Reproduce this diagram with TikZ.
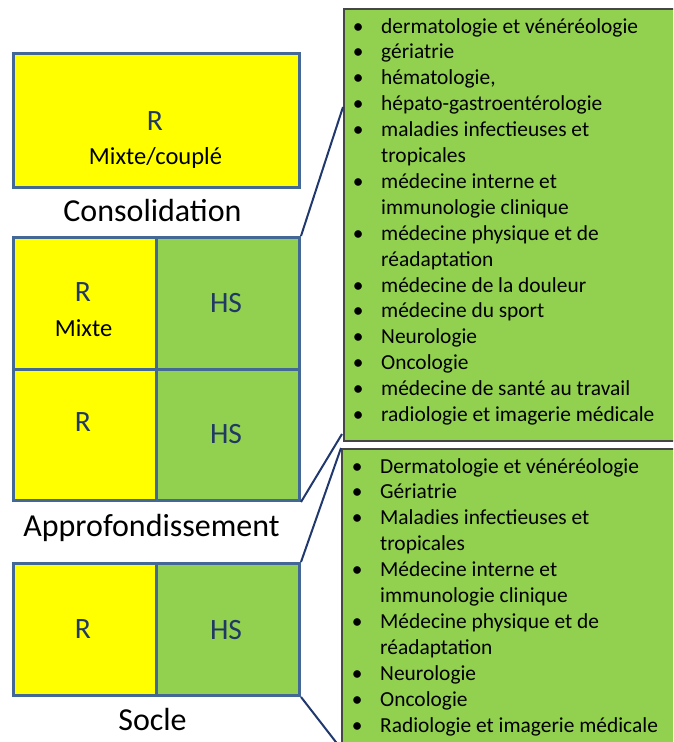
\documentclass[tikz,border=0pt]{standalone}
\usepackage{fontspec}
\setmainfont{Carlito}
\definecolor{boxblue}{RGB}{68,104,150}
\definecolor{ryellow}{RGB}{255,255,0}
\definecolor{hsgreen}{RGB}{146,208,80}
\definecolor{navytext}{RGB}{31,56,100}
\definecolor{connblue}{RGB}{32,56,110}
\definecolor{listgray}{RGB}{70,70,70}
\newcommand{\itm}[1]{\makebox[23pt][l]{\makebox[0pt]{\textbullet}} & #1\\}
\newcommand{\cnt}[1]{ & #1\\}
\begin{document}
\begin{tikzpicture}[x=1pt,y=-1pt,
  cell/.style={draw=boxblue, line width=3pt, inner sep=0pt, anchor=north west},
  rcell/.style={cell, fill=ryellow},
  hcell/.style={cell, fill=hsgreen},
  big/.style={font=\fontsize{29.5}{34}\selectfont, text=navytext, anchor=base, inner sep=0pt},
  small/.style={font=\fontsize{24.5}{29}\selectfont, text=black, anchor=base, inner sep=0pt},
  stage/.style={font=\fontsize{32}{38}\selectfont, text=black, anchor=base, inner sep=0pt},
  listbox/.style={draw=listgray, line width=1.5pt, fill=hsgreen, inner sep=0pt, anchor=north west, minimum width=340pt},
  listtext/.style={font=\fontsize{21.4}{25.9}\selectfont, text=black, anchor=base west, inner sep=0pt},
  conn/.style={draw=connblue, line width=2pt}]
\useasboundingbox (0,0) rectangle (673,742);
\clip (0,0) rectangle (673,742);

% Consolidation
\node[rcell, minimum width=286pt, minimum height=134pt] (top) at (12,52) {};
\node[big] (topR) at (155,130.7) {R};
\node[small] (topM) at (155.5,164) {Mixte/couplé};
\node[stage] (cons) at (152.5,221.7) {Consolidation};

% Approfondissement
\node[rcell, minimum width=143pt, minimum height=132pt] (r1) at (12,236) {};
\node[hcell, minimum width=143pt, minimum height=132pt] (hs1) at (155,236) {};
\node[rcell, minimum width=143pt, minimum height=131pt] (r2) at (12,368) {};
\node[hcell, minimum width=143pt, minimum height=131pt] (hs2) at (155,368) {};
\node[big] (r1R) at (83,301.7) {R};
\node[small] (r1M) at (83.5,336) {Mixte};
\node[big] (hs1t) at (226,312.7) {HS};
\node[big] (r2R) at (83,431.7) {R};
\node[big] (hs2t) at (226,443.3) {HS};
\node[stage] (appro) at (151.5,536.7) {Approfondissement};

% Socle
\node[rcell, minimum width=143pt, minimum height=132pt] (sr) at (12,562) {};
\node[hcell, minimum width=143pt, minimum height=132pt] (shs) at (155,562) {};
\node[big] (srt) at (83,638) {R};
\node[big] (shst) at (226,639) {HS};
\node[stage] (socle) at (152.5,730) {Socle};

% Lists
\node[listbox, minimum height=432pt] (list1) at (343,8) {};
\node[listbox, minimum height=310pt] (list2) at (341,448) {};

\node[listtext] (l1) at (358,33) {\begin{tabular}[t]{@{}l@{}l@{}}
\itm{dermatologie et vénéréologie}
\itm{gériatrie}
\itm{hématologie,}
\itm{hépato-gastroentérologie}
\itm{maladies infectieuses et}
\cnt{tropicales}
\itm{médecine interne et}
\cnt{immunologie clinique}
\itm{médecine physique et de}
\cnt{réadaptation}
\itm{médecine de la douleur}
\itm{médecine du sport}
\itm{Neurologie}
\itm{Oncologie}
\itm{médecine de santé au travail}
\itm{radiologie et imagerie médicale}
\end{tabular}};

\node[listtext] (l2) at (357,473) {\begin{tabular}[t]{@{}l@{}l@{}}
\itm{Dermatologie et vénéréologie}
\itm{Gériatrie}
\itm{Maladies infectieuses et}
\cnt{tropicales}
\itm{Médecine interne et}
\cnt{immunologie clinique}
\itm{Médecine physique et de}
\cnt{réadaptation}
\itm{Neurologie}
\itm{Oncologie}
\itm{Radiologie et imagerie médicale}
\end{tabular}};

% Connectors
\coordinate (p1) at (343,107);
\coordinate (p2) at (342,434);
\coordinate (p4) at (339,746);
\draw[conn] (hs1.north east) -- (p1);
\draw[conn] (hs2.south east) -- (p2);
\draw[conn] (shs.north east) -- (list2.north west);
\draw[conn] (shs.south east) -- (p4);
\end{tikzpicture}
\end{document}
